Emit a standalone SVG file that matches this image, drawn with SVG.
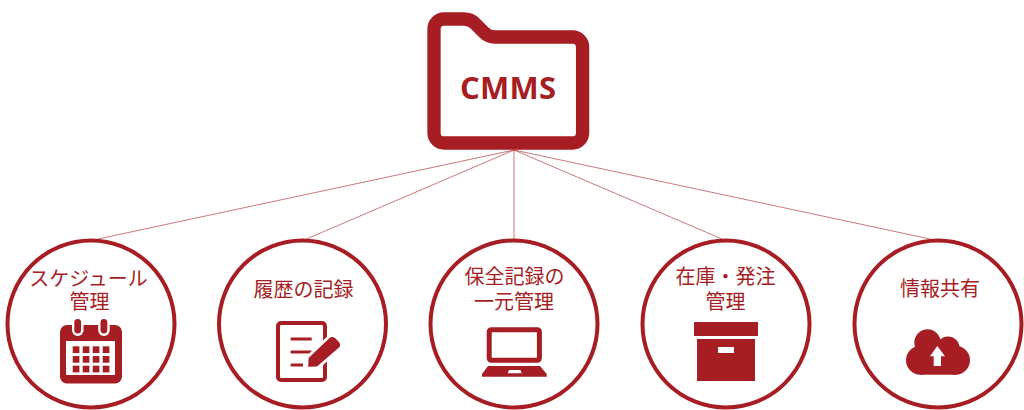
<svg xmlns="http://www.w3.org/2000/svg" width="1024" height="410" viewBox="0 0 1024 410">
<style>
.c{fill:none;stroke:#a61e24;stroke-width:4}
.l{fill:none;stroke:#a61e24;stroke-width:.8;opacity:.75}
.t{font-family:"Noto Sans CJK JP","Noto Sans",sans-serif;font-size:20px;fill:#a61e24;text-anchor:middle}
.f{fill:#a61e24}
.w{fill:#fff}
</style>
<rect width="1024" height="410" fill="#fff"/>
<g id="connectors">
<line class="l" x1="514" y1="150" x2="98" y2="239"/>
<line class="l" x1="514" y1="150" x2="306.500" y2="239"/>
<line class="l" x1="514" y1="150" x2="514" y2="239"/>
<line class="l" x1="514" y1="150" x2="722" y2="239"/>
<line class="l" x1="514" y1="150" x2="930" y2="239"/>
</g>
<g id="cmms">
<path d="M444 19H464C469 19 472 20.500 475 23.500L484 32.500C487 35.500 490 37 495 37H572.600A10 10 0 0 1 582.600 47V133A10 10 0 0 1 572.600 143H444A10 10 0 0 1 434 133V29A10 10 0 0 1 444 19Z" fill="none" stroke="#a61e24" stroke-width="13.300"/>
<text x="508" y="99" font-family="'Open Sans','Liberation Sans',sans-serif" font-weight="700" font-size="31" fill="#a61e24" text-anchor="middle" textLength="96" lengthAdjust="spacing">CMMS</text>
</g>
<g id="schedule">
<circle class="c" cx="91" cy="324" r="83.500"/>
<text class="t"><tspan x="88.500" y="286">スケジュール</tspan><tspan x="89.500" y="309">管理</tspan></text>
<rect class="f" x="60" y="325" width="62" height="58.500" rx="7"/>
<rect class="w" x="66" y="341" width="49" height="34" rx="1"/>
<g class="f">
<rect x="72.700" y="346.300" width="6.700" height="6.700"/><rect x="82.700" y="346.300" width="6.700" height="6.700"/><rect x="92.700" y="346.300" width="6.700" height="6.700"/><rect x="102.700" y="346.300" width="6.700" height="6.700"/>
<rect x="72.700" y="356" width="6.700" height="6.700"/><rect x="82.700" y="356" width="6.700" height="6.700"/><rect x="92.700" y="356" width="6.700" height="6.700"/><rect x="102.700" y="356" width="6.700" height="6.700"/>
<rect x="72.700" y="365.700" width="6.700" height="6.700"/><rect x="82.700" y="365.700" width="6.700" height="6.700"/><rect x="92.700" y="365.700" width="6.700" height="6.700"/><rect x="102.700" y="365.700" width="6.700" height="6.700"/>
</g>
<rect class="w" x="72" y="317" width="11.500" height="19" rx="5.700"/><rect class="f" x="74.300" y="319" width="6.800" height="14.500" rx="3.400"/>
<rect class="w" x="98.200" y="317" width="11.500" height="19" rx="5.700"/><rect class="f" x="100.500" y="319" width="6.800" height="14.500" rx="3.400"/>
</g>
<g id="history">
<circle class="c" cx="302.500" cy="324" r="83.500"/>
<text class="t" x="303.500" y="297">履歴の記録</text>
<rect x="278" y="323" width="47" height="57" rx="3" fill="none" stroke="#a61e24" stroke-width="4"/>
<path d="M290.700 339H311.700M290.700 352H311.700M290.700 365H303" fill="none" stroke="#a61e24" stroke-width="3.200"/>
<path d="M305 370L305.500 357L331 333L344 345L318 370Z" fill="#fff"/>
<path d="M308.200 366.800L308.600 358L329 338.500C331 336.500 333 336.500 335 338L339 342C340.500 344 340.500 346 339 347.500L317 366.500Z" fill="#a61e24"/>
</g>
<g id="records">
<circle class="c" cx="514" cy="324" r="83.500"/>
<text class="t"><tspan x="514.500" y="284">保全記録の</tspan><tspan x="514" y="309">一元管理</tspan></text>
<rect x="489.200" y="329.800" width="50.200" height="30.500" rx="2" fill="none" stroke="#a61e24" stroke-width="5"/>
<path d="M488 366H540L546.700 374V376.700H482V374Z" fill="#a61e24"/>
<path class="w" d="M509 370H520.500L521.700 373.300H507.700Z"/>
</g>
<g id="stock">
<circle class="c" cx="726" cy="324" r="83.500"/>
<text class="t"><tspan x="725.500" y="284">在庫・発注</tspan><tspan x="725.500" y="309">管理</tspan></text>
<rect class="f" x="694" y="322" width="64" height="14"/>
<rect class="f" x="697" y="339" width="58" height="42"/>
<rect class="w" x="718" y="347" width="16" height="6"/>
</g>
<g id="share">
<circle class="c" cx="938" cy="324" r="83.500"/>
<text class="t" x="940" y="296">情報共有</text>
<g class="f">
<circle cx="927.500" cy="342.500" r="13.200"/><circle cx="948" cy="348" r="11.500"/><circle cx="920.500" cy="360.200" r="14.500"/><circle cx="955.500" cy="360.200" r="14.500"/>
<rect x="920" y="345" width="36" height="29.700"/>
</g>
<path class="w" d="M937.300 346L945 356.300H941V366H933.700V356.300H930Z"/>
</g>
</svg>
